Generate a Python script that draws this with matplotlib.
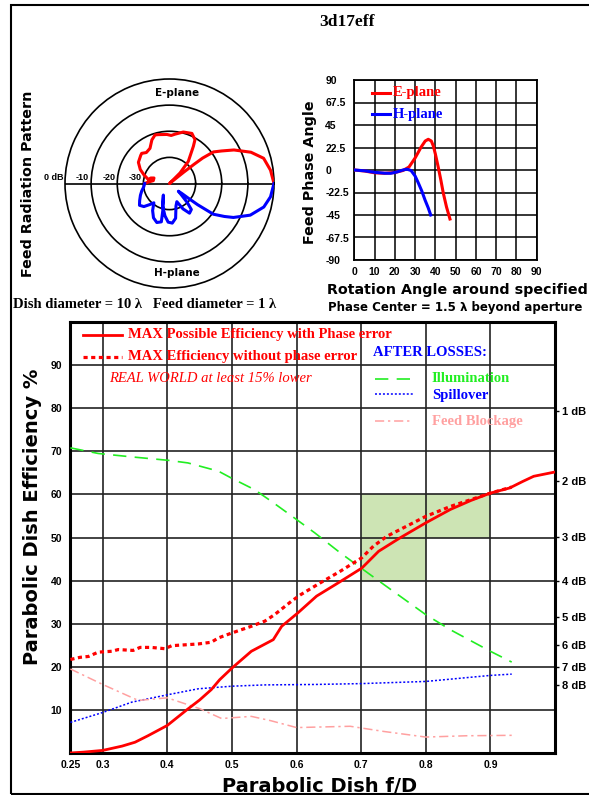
import numpy as np
import matplotlib
matplotlib.use("Agg")
import matplotlib.pyplot as plt
from matplotlib.patches import Rectangle
from matplotlib.transforms import offset_copy

# ---------------- data ----------------
# Feed radiation pattern (polar, degrees / dB)
e_theta = [0, 7.5, 15, 21, 27.5, 32, 35.7, 37.5, 38, 38.5, 40, 45, 49.6, 57.3, 59.8,
           65.9, 75, 83.6, 88, 93, 103, 106.6, 112, 119, 126.8, 132.7, 135.7, 145.8,
           154.4, 161, 169.7, 163.7, 160.5, 170, 176, 180]
e_db = [0, -1, -2.7, -6.6, -12.2, -16.5, -19.3, -24, -28, -33, -40, -34.3, -28.9, -23.1,
        -20.6, -19.0, -19.6, -21.0, -21.6, -21.2, -20.8, -20.6, -22.0, -24.6, -25.2,
        -24.3, -24.6, -25.6, -27.6, -29.6, -31.8, -32.5, -33.7, -33.7, -31.9, -30.5]

h_theta = [-180, -172, -165, -158, -150, -144, -138, -133, -129, -122, -115, -108, -102,
           -104, -118, -107, -98, -92, -86, -80, -74, -68, -62, -56, -50, -47, -44, -41,
           -39, -38, -37, -35, -31, -28, -21.4, -14, -7.5, 0]
h_db = [-30.5, -30.0, -29.0, -28.0, -26.8, -25.8, -26.8, -29.0, -30.5, -27.8, -25.5, -24.3,
        -25.0, -29.5, -35.0, -31.0, -27.5, -25.2, -24.8, -26.5, -31.0, -32.5, -29.0, -26.3,
        -27.0, -30.0, -33.5, -35.5, -34.0, -31.0, -26.5, -19.5, -15.5, -12.3, -6.8, -2.8,
        -1.0, 0]

ring_levels = [-30, -20, -10, 0]
ring_labels = ["-30", "-20", "-10", "0 dB"]

# Feed phase angle
phase_e_ang = [0, 5, 10, 15, 20, 24, 27, 30, 33, 35, 36.5, 38, 39, 40, 41.4, 42.7, 43.9, 45.5, 47.2]
phase_e_val = [0, -1, -2.8, -3.3, -2.5, -0.5, 3, 12, 23, 29, 30.7, 29, 24, 16, 3, -10, -23, -37, -49]
phase_h_ang = [0, 5, 10, 15, 18, 21, 24, 26, 28, 30, 31.6, 33.3, 34.9, 36.5, 37.7]
phase_h_val = [0, -0.8, -2.3, -3.2, -3.3, -2, 0, 0.8, -0.5, -6, -13, -21, -30, -38, -45]
phase_xticks = [0, 10, 20, 30, 40, 50, 60, 70, 80, 90]
phase_yticks = [90, 67.5, 45, 22.5, 0, -22.5, -45, -67.5, -90]
phase_ylabels = ["90", "67.5", "45", "22.5", "0", "-22.5", "-45", "-67.5", "-90"]

# Efficiency vs f/D
fd_phase = [0.25, 0.27, 0.30, 0.33, 0.35, 0.37, 0.40, 0.43, 0.45, 0.468, 0.481, 0.50, 0.53,
            0.564, 0.577, 0.602, 0.631, 0.668, 0.701, 0.727, 0.76, 0.80, 0.838, 0.87, 0.90,
            0.93, 0.95, 0.967, 1.00]
eff_phase = [0.0, 0.2, 0.6, 1.6, 2.5, 4.0, 6.4, 10.0, 12.3, 14.7, 17.0, 19.7, 23.6, 26.3,
             29.4, 32.5, 36.4, 39.8, 42.9, 46.8, 49.9, 53.4, 56.5, 58.6, 60.3, 61.5, 63.0,
             64.2, 65.2]
fd_nophase = [0.25, 0.265, 0.278, 0.293, 0.314, 0.324, 0.347, 0.358, 0.375, 0.396, 0.407,
              0.448, 0.468, 0.479, 0.499, 0.53, 0.551, 0.566, 0.592, 0.606, 0.637, 0.668,
              0.701, 0.719, 0.74, 0.80, 0.838, 0.90, 0.933]
eff_nophase = [21.7, 22.2, 22.4, 23.4, 23.6, 24.0, 23.8, 24.5, 24.5, 24.2, 24.9, 25.3, 25.7,
               26.7, 27.8, 29.4, 30.6, 32.1, 35.2, 36.7, 39.5, 42.2, 45.3, 48.0, 50.3, 54.9,
               57.2, 60.3, 61.7]
fd_illum = [0.25, 0.293, 0.345, 0.402, 0.432, 0.479, 0.499, 0.535, 0.561, 0.597, 0.628,
            0.668, 0.70, 0.735, 0.80, 0.838, 0.90, 0.933]
eff_illum = [70.8, 69.5, 68.7, 67.9, 67.3, 65.4, 63.8, 61.1, 58.4, 54.5, 51.1, 46.4, 42.9,
             39.1, 32.1, 28.6, 23.6, 21.1]
fd_spill = [0.25, 0.30, 0.345, 0.40, 0.448, 0.50, 0.551, 0.628, 0.70, 0.80, 0.90, 0.933]
eff_spill = [7.1, 9.4, 11.8, 13.5, 14.9, 15.5, 15.8, 15.9, 16.1, 16.6, 18.0, 18.3]
fd_block = [0.25, 0.30, 0.355, 0.40, 0.45, 0.484, 0.53, 0.56, 0.60, 0.683, 0.735, 0.80,
            0.863, 0.933]
eff_block = [19.5, 15.9, 12.2, 12.8, 10.3, 8.0, 8.5, 7.5, 5.9, 6.2, 5.0, 3.7, 4.0, 4.1]

good_fd = [0.7, 0.9, 0.9, 0.8, 0.8, 0.7]
good_eff = [60, 60, 50, 50, 40, 40]

eff_yticks = [10, 20, 30, 40, 50, 60, 70, 80, 90]
fd_xticks = [0.25, 0.3, 0.4, 0.5, 0.6, 0.7, 0.8, 0.9]
fd_xlabels = ["0.25", "0.3", "0.4", "0.5", "0.6", "0.7", "0.8", "0.9"]
loss_db = [1, 2, 3, 4, 5, 6, 7, 8]
loss_labels = ["1 dB", "2 dB", "3 dB", "4 dB", "5 dB", "6 dB", "7 dB", "8 dB"]

# ---------------- style ----------------
SANS = "DejaVu Sans"
TICK = "Liberation Sans"
SERIF = "Liberation Serif"
RED = "#ff0000"
BLUE = "#0000ff"
GREEN = "#22ee22"
PINK = "#ffa0a0"
W, H = 589, 795


def fx(px):
    return px / W


def fy(py):
    return 1 - py / H


fig = plt.figure(figsize=(W / 100, H / 100), dpi=100)
fig.patch.set_facecolor("white")

# outer frame
fig.add_artist(Rectangle((fx(11), fy(794)), 2, (794 - 5) / H, transform=fig.transFigure,
                         fill=False, lw=1.5, ec="black"))

fig.text(fx(347), fy(22), "3d17eff", family=SERIF, weight="bold", fontsize=12.5,
         ha="center", va="center")

# ---------------- polar pattern ----------------
cx, cy, R = 169.5, 183.5, 104.5
axp = fig.add_axes([fx(cx - R), fy(cy + R), 2 * R / W, 2 * R / H], projection="polar")
axp.set_ylim(-40, 0)
axp.set_xticks([])
axp.set_yticks(ring_levels[:-1])
axp.set_yticklabels([])
axp.yaxis.grid(True, color="black", lw=1.2)
axp.xaxis.grid(False)
axp.spines["polar"].set_color("black")
axp.spines["polar"].set_linewidth(1.2)
axp.patch.set_alpha(0)
axp.plot([np.pi, 0], [0, 0], color="black", lw=1.2, zorder=2)
axp.plot(np.deg2rad(e_theta), e_db, color=RED, lw=2.2, zorder=3, solid_joinstyle="round")
axp.plot(np.deg2rad(h_theta), h_db, color=BLUE, lw=2.2, zorder=3, solid_joinstyle="round")
lab_tr = offset_copy(axp.transData, fig=fig, x=-2, y=1.5, units="dots")
for lev, lab in zip(ring_levels, ring_labels):
    axp.text(np.pi, lev, lab, transform=lab_tr, ha="right", va="bottom", family=TICK,
             weight="bold", fontsize=6.5)
fig.text(fx(177), fy(93), "E-plane", family=SANS, weight="bold", fontsize=7.5,
         ha="center", va="center")
fig.text(fx(177), fy(273), "H-plane", family=SANS, weight="bold", fontsize=7.5,
         ha="center", va="center")
fig.text(fx(28), fy(183.5), "Feed Radiation Pattern", family=SANS, weight="bold",
         fontsize=10.3, rotation=90, ha="center", va="center")
fig.text(fx(13), fy(305), "Dish diameter = 10 \u03bb   Feed diameter = 1 \u03bb", family=SERIF,
         weight="bold", fontsize=10.5, ha="left", va="center")

# ---------------- phase plot ----------------
axf = fig.add_axes([fx(354.3), fy(260), (536.7 - 354.3) / W, 180 / H])
axf.set_xlim(0, 90)
axf.set_ylim(-90, 90)
axf.set_xticks(phase_xticks)
axf.set_yticks(phase_yticks)
axf.set_yticklabels(phase_ylabels)
axf.grid(True, color="black", lw=1.1)
for s in axf.spines.values():
    s.set_color("black")
    s.set_linewidth(1.3)
axf.tick_params(length=0, labelsize=7.5)
axf.tick_params(axis="y", pad=21)
axf.tick_params(axis="x", pad=5)
for t in axf.get_yticklabels():
    t.set_horizontalalignment("left")
for t in axf.get_xticklabels() + axf.get_yticklabels():
    t.set_family(TICK)
    t.set_weight("bold")
axf.plot(phase_e_ang, phase_e_val, color=RED, lw=2.2, zorder=3)
axf.plot(phase_h_ang, phase_h_val, color=BLUE, lw=2.2, zorder=3)
axf.plot([0.095, 0.195], [0.93, 0.93], transform=axf.transAxes, color=RED, lw=2.2)
axf.plot([0.095, 0.195], [0.81, 0.81], transform=axf.transAxes, color=BLUE, lw=2.2)
axf.text(0.21, 0.93, "E-plane", transform=axf.transAxes, color=RED, family=SERIF,
         weight="bold", fontsize=10.5, va="center")
axf.text(0.21, 0.81, "H-plane", transform=axf.transAxes, color=BLUE, family=SERIF,
         weight="bold", fontsize=10.5, va="center")
fig.text(fx(310), fy(172), "Feed Phase Angle", family=SANS, weight="bold", fontsize=10.3,
         rotation=90, ha="center", va="center")
fig.text(fx(327), fy(290), "Rotation Angle around specified", family=SANS, weight="bold",
         fontsize=10.3, ha="left", va="center")
fig.text(fx(328), fy(307), "Phase Center = 1.5 \u03bb beyond aperture", family=SANS,
         weight="bold", fontsize=8.5, ha="left", va="center")

# ---------------- efficiency plot ----------------
ax = fig.add_axes([fx(70.4), fy(753), (555 - 70.4) / W, (753 - 322) / H])
ax.set_xlim(0.25, 1.0)
ax.set_ylim(0, 100)
ax.set_xticks(fd_xticks)
ax.set_xticklabels(fd_xlabels)
ax.set_yticks(eff_yticks)
ax.grid(True, color="#222222", lw=1.2)
for s in ax.spines.values():
    s.set_color("black")
    s.set_linewidth(2.2)
ax.tick_params(length=0, labelsize=7.5)
ax.tick_params(axis="y", pad=6)
ax.tick_params(axis="x", pad=5)
for t in ax.get_xticklabels() + ax.get_yticklabels():
    t.set_family(TICK)
    t.set_weight("bold")

ax.fill(good_fd, good_eff, color="#cde4b4", zorder=1, lw=0)
ax.plot(fd_illum, eff_illum, color=GREEN, lw=1.2, ls=(0, (8, 5)), zorder=3)
ax.plot(fd_spill, eff_spill, color=BLUE, lw=1.1, ls=(0, (1.3, 1.3)), zorder=3)
ax.plot(fd_block, eff_block, color=PINK, lw=1.1, ls=(0, (6, 2.5, 1.5, 2.5)), zorder=3)
ax.plot(fd_nophase, eff_nophase, color=RED, lw=2.3, ls=(0, (1.3, 1.1)), zorder=4)
ax.plot(fd_phase, eff_phase, color=RED, lw=2.0, zorder=5)

axr = ax.twinx()
axr.set_ylim(0, 100)
axr.set_yticks([100 * 10 ** (-d / 10) for d in loss_db])
axr.set_yticklabels(loss_labels)
axr.tick_params(axis="y", length=3, width=1, pad=2, labelsize=8)
for t in axr.get_yticklabels():
    t.set_family(TICK)
    t.set_weight("bold")
for s in axr.spines.values():
    s.set_visible(False)

# legend-like annotations
tA = ax.transAxes
ax.plot([0.026, 0.107], [0.970, 0.970], transform=tA, color=RED, lw=2.0, clip_on=False)
ax.plot([0.026, 0.107], [0.919, 0.919], transform=tA, color=RED, lw=2.3,
        ls=(0, (1.3, 1.1)), clip_on=False)
ax.text(0.119, 0.970, "MAX Possible Efficiency with Phase error", transform=tA, color=RED,
        family=SERIF, weight="bold", fontsize=10.5, va="center")
ax.text(0.119, 0.919, "MAX Efficiency without phase error", transform=tA, color=RED,
        family=SERIF, weight="bold", fontsize=10.5, va="center")
ax.text(0.080, 0.870, "REAL WORLD at least 15% lower", transform=tA, color=RED,
        family=SERIF, style="italic", fontsize=10.5, va="center")
ax.text(0.624, 0.930, "AFTER LOSSES:", transform=tA, color=BLUE, family=SERIF,
        weight="bold", fontsize=10.5, va="center")
ax.plot([0.628, 0.707], [0.868, 0.868], transform=tA, color=GREEN, lw=1.2, ls=(0, (8, 5)))
ax.plot([0.628, 0.707], [0.833, 0.833], transform=tA, color=BLUE, lw=1.1, ls=(0, (1.3, 1.3)))
ax.plot([0.628, 0.707], [0.770, 0.770], transform=tA, color=PINK, lw=1.1,
        ls=(0, (6, 2.5, 1.5, 2.5)))
ax.text(0.746, 0.868, "Illumination", transform=tA, color=GREEN, family=SERIF,
        weight="bold", fontsize=10.5, va="center")
ax.text(0.746, 0.830, "Spillover", transform=tA, color=BLUE, family=SERIF,
        weight="bold", fontsize=10.5, va="center")
ax.text(0.746, 0.770, "Feed Blockage", transform=tA, color=PINK, family=SERIF,
        weight="bold", fontsize=10.5, va="center")

fig.text(fx(33), fy(517), "Parabolic Dish Efficiency %", family=SANS, weight="bold",
         fontsize=14, rotation=90, ha="center", va="center")
fig.text(fx(320), fy(787), "Parabolic Dish f/D", family=SANS, weight="bold", fontsize=14,
         ha="center", va="center")

fig.savefig("out.png", dpi=100, facecolor="white")
